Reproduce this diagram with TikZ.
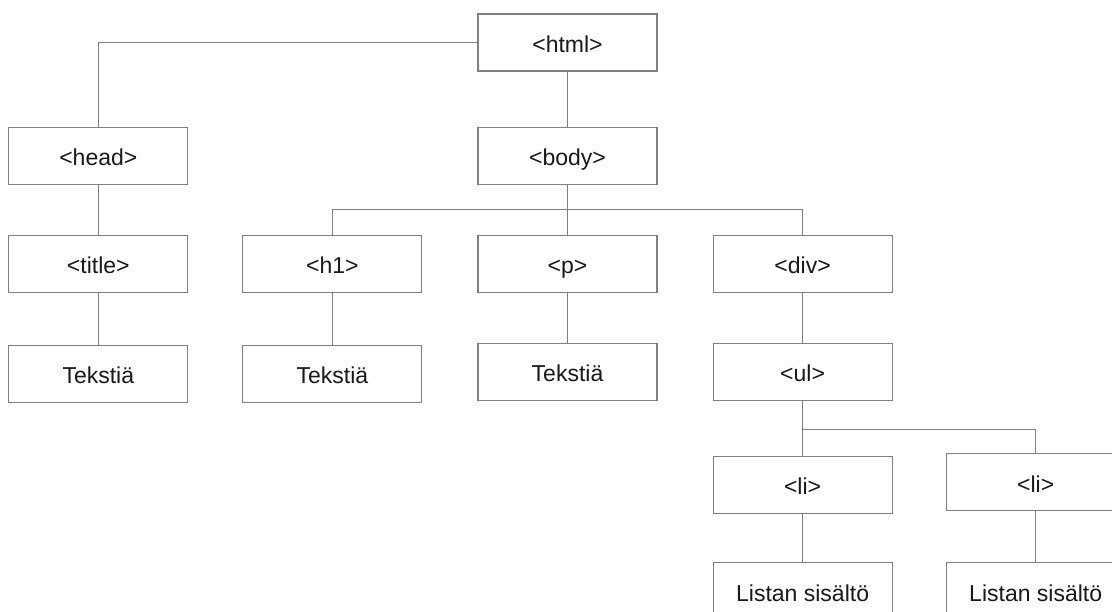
\documentclass[tikz,border=0pt]{standalone}
\usepackage{fontspec}
\setmainfont{Liberation Sans}
\usetikzlibrary{positioning,calc}

\begin{document}
\begin{tikzpicture}[x=1pt, y=1pt,
    tag/.style={draw=gray, line width=1.1pt, fill=white, minimum width=179pt,
        minimum height=57pt, inner sep=0pt, text=black!90,
        text height=21pt, text depth=1pt,
        font=\fontsize{23}{27}\selectfont},
    link/.style={draw=gray, line width=1.1pt}]
    \useasboundingbox (0,0) rectangle (1112,-611);
    \node[tag] (html) at (567.5,-42.5) {<html>};
    \node[tag, below=55pt of html] (body) {<body>};
    \node[tag, below=50pt of body] (p) {<p>};
    \node[tag, left=55pt of p] (h1) {<h1>};
    \node[tag, left=54pt of h1] (title) {<title>};
    \node[tag, above=50pt of title] (head) {<head>};
    \node[tag, right=55pt of p] (div) {<div>};
    \node[tag, below=52pt of title] (T1) {Tekstiä};
    \node[tag, below=52pt of h1] (T2) {Tekstiä};
    \node[tag, below=50pt of p] (T3) {Tekstiä};
    \node[tag, below=50pt of div] (ul) {<ul>};
    \node[tag, below=55pt of ul] (li1) {<li>};
    \node[tag, right=53pt of li1, yshift=2.5pt] (li2) {<li>};
    \node[tag, below=48pt of li1] (L1) {Listan sisältö};
    \node[tag, below=50.5pt of li2] (L2) {Listan sisältö};
    % haarat
    \coordinate (bodybus) at ($(body.south)!0.5!(p.north)$);
    \coordinate (ulbus) at ($(ul.south)!0.52!(li1.north)$);
    \draw[link] (html.west) -| (head.north);
    \draw[link] (html) -- (body);
    \draw[link] (head) -- (title);
    \draw[link] (title) -- (T1);
    \draw[link] (body) -- (p);
    \draw[link] (h1.north) |- (bodybus) -| (div.north);
    \draw[link] (h1) -- (T2);
    \draw[link] (p) -- (T3);
    \draw[link] (div) -- (ul);
    \draw[link] (ul) -- (li1);
    \draw[link] (ulbus) -| (li2.north);
    \draw[link] (li1) -- (L1);
    \draw[link] (li2) -- (L2);
\end{tikzpicture}
\end{document}
